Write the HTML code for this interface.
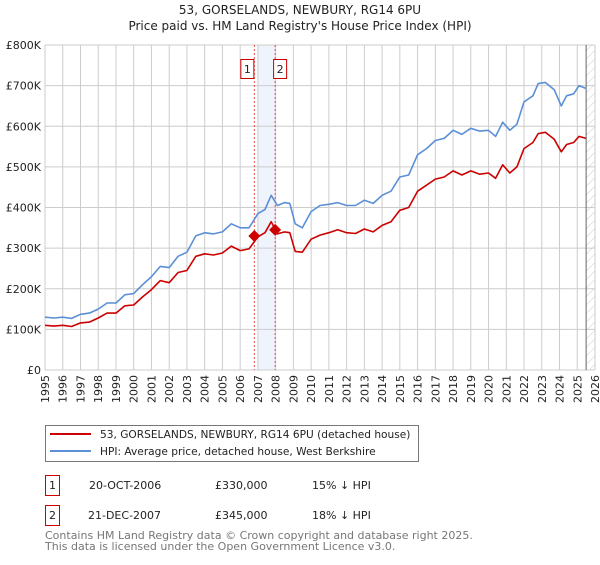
<!DOCTYPE html>
<html><head><meta charset="utf-8">
<style>
body{margin:0;background:#fff;font-family:"Liberation Sans","DejaVu Sans",sans-serif;}
svg text{font-family:"DejaVu Sans","Liberation Sans",sans-serif;}
</style></head>
<body>
<svg id="chart" width="600" height="560" viewBox="0 0 600 560" xmlns="http://www.w3.org/2000/svg">
<defs>
<pattern id="hatch" width="6" height="6" patternUnits="userSpaceOnUse" patternTransform="rotate(45)">
<line x1="0" y1="0" x2="0" y2="6" stroke="#ccc" stroke-width="1"/>
</pattern>
</defs>
<text x="300" y="14" text-anchor="middle" font-size="12" fill="#222">53, GORSELANDS, NEWBURY, RG14 6PU</text>
<text x="300" y="30" text-anchor="middle" font-size="12" fill="#222">Price paid vs. HM Land Registry's House Price Index (HPI)</text>
<g id="grid"></g>
<g id="marks"></g>
<g id="axes"></g>
<g>
<rect x="45.5" y="425.5" width="373" height="36" fill="#fff" stroke="#777"/>
<line x1="50" y1="434" x2="91" y2="434" stroke="#cc0000" stroke-width="2"/>
<text x="100" y="438" font-size="10.6" fill="#222">53, GORSELANDS, NEWBURY, RG14 6PU (detached house)</text>
<line x1="50" y1="451" x2="91" y2="451" stroke="#5b8fd6" stroke-width="2"/>
<text x="100" y="455" font-size="10.6" fill="#222">HPI: Average price, detached house, West Berkshire</text>
</g>
<g>
<rect x="45.5" y="475.5" width="14" height="20" fill="#fff" stroke="#cc0000"/>
<text x="52.5" y="489" text-anchor="middle" font-size="11" fill="#222">1</text>
<text x="89" y="489" font-size="11" fill="#222">20-OCT-2006</text>
<text x="215" y="489" font-size="11" fill="#222">£330,000</text>
<text x="312" y="489" font-size="11" fill="#222">15% ↓ HPI</text>
<rect x="45.5" y="505.5" width="14" height="20" fill="#fff" stroke="#cc0000"/>
<text x="52.5" y="519" text-anchor="middle" font-size="11" fill="#222">2</text>
<text x="88" y="519" font-size="11" fill="#222">21-DEC-2007</text>
<text x="215" y="519" font-size="11" fill="#222">£345,000</text>
<text x="312" y="519" font-size="11" fill="#222">18% ↓ HPI</text>
</g>
<text x="45" y="539" font-size="11" fill="#777">Contains HM Land Registry data © Crown copyright and database right 2025.</text>
<text x="45" y="550" font-size="11" fill="#777">This data is licensed under the Open Government Licence v3.0.</text>
</svg>
<script>
const hpiDates=[1995,1995.5,1996,1996.5,1997,1997.5,1998,1998.5,1999,1999.5,2000,2000.5,2001,2001.5,2002,2002.5,2003,2003.5,2004,2004.5,2005,2005.5,2006,2006.5,2007,2007.4,2007.75,2008.1,2008.5,2008.8,2009.1,2009.5,2010,2010.5,2011,2011.5,2012,2012.5,2013,2013.5,2014,2014.5,2015,2015.5,2016,2016.5,2017,2017.5,2018,2018.5,2019,2019.5,2020,2020.4,2020.8,2021.2,2021.6,2022,2022.5,2022.8,2023.2,2023.7,2024.1,2024.4,2024.8,2025.1,2025.5];
const hpiValues=[130,128,130,127,137,140,150,165,165,185,188,210,230,255,252,280,290,330,338,335,340,360,350,350,385,395,430,405,412,410,360,350,390,405,408,412,405,405,418,410,430,440,475,480,530,545,565,570,590,580,595,588,590,575,610,590,605,660,675,705,708,690,650,675,680,700,693];
const priceDates=hpiDates;
const priceValues=[110,108,110,107,116,118,128,140,140,158,160,180,198,220,215,240,245,280,286,283,288,305,294,298,328,338,365,335,340,338,292,290,322,332,338,345,338,336,347,340,356,365,393,400,440,455,470,475,490,480,490,482,485,472,505,485,500,545,560,582,585,568,537,555,560,575,570];
const saleDates=[2006.8,2007.97];
const salePrices=[330,345];
const saleLabels=["1","2"];
const yTicks=[0,100,200,300,400,500,600,700,800];
const yTickLabels=["£0","£100K","£200K","£300K","£400K","£500K","£600K","£700K","£800K"];
const xTicks=[1995,1996,1997,1998,1999,2000,2001,2002,2003,2004,2005,2006,2007,2008,2009,2010,2011,2012,2013,2014,2015,2016,2017,2018,2019,2020,2021,2022,2023,2024,2025,2026];
const bandStart=2007, dataEnd=2025.5;

const NS="http://www.w3.org/2000/svg";
const X0=45,X1=595,Y0=370,Y1=45;
const xs=d=>X0+(d-1995)/(2026-1995)*(X1-X0);
const ys=v=>Y0-v/800*(Y0-Y1);
function mk(tag,attrs,parent){const e=document.createElementNS(NS,tag);for(const k in attrs)e.setAttribute(k,attrs[k]);parent.appendChild(e);return e;}
const grid=document.getElementById('grid'),marks=document.getElementById('marks'),axes=document.getElementById('axes');

const band=mk('rect',{x:xs(bandStart),y:Y1,width:xs(saleDates[1])-xs(bandStart),height:Y0-Y1,fill:'#eef3fc'},grid);


const hat=mk('rect',{x:xs(dataEnd),y:Y1,width:X1-xs(dataEnd),height:Y0-Y1,fill:'url(#hatch)'},grid);



yTicks.forEach((t,i)=>{
  mk('line',{x1:X0,x2:X1,y1:ys(t),y2:ys(t),stroke:'#ccc','stroke-width':1},grid);
  const tx=mk('text',{x:X0-4,y:ys(t)+4,'text-anchor':'end','font-size':11,fill:'#222'},axes);
  tx.textContent=yTickLabels[i];
  
  
});
xTicks.forEach(t=>{
  mk('line',{x1:xs(t),x2:xs(t),y1:Y1,y2:Y0,stroke:'#ccc','stroke-width':1},grid);
  const tx=mk('text',{x:0,y:0,'text-anchor':'end','font-size':11,fill:'#222',transform:`translate(${xs(t)+4},${Y0+5}) rotate(-90)`},axes);
  tx.textContent=t;
  
  
});
const endLine=mk('line',{x1:xs(dataEnd),x2:xs(dataEnd),y1:Y1,y2:Y0,stroke:'#666','stroke-width':1},grid);



saleDates.forEach((d,i)=>{
  const l=mk('line',{x1:xs(d),x2:xs(d),y1:Y1,y2:Y0,stroke:'#e05050','stroke-width':1,'stroke-dasharray':'2,2'},marks);
  
  
});

function path(dates,vals){return dates.map((d,i)=>(i?'L':'M')+xs(d).toFixed(1)+','+ys(vals[i]).toFixed(1)).join('');}
const hp=mk('path',{d:path(hpiDates,hpiValues),fill:'none',stroke:'#5b8fd6','stroke-width':1.6,'stroke-linejoin':'round'},marks);


const pp=mk('path',{d:path(priceDates,priceValues),fill:'none',stroke:'#cc0000','stroke-width':1.6,'stroke-linejoin':'round'},marks);



saleDates.forEach((d,i)=>{
  const cx=xs(d),cy=ys(salePrices[i]);
  const p=mk('path',{d:`M${cx},${cy-6}L${cx+6},${cy}L${cx},${cy+6}L${cx-6},${cy}Z`,fill:'#cc0000'},marks);
  
  
  const bx=cx+(i===0?-7:5);
  const r=mk('rect',{x:bx-6.5,y:59.5,width:13,height:19,fill:'#fff',stroke:'#cc0000'},marks);
  
  
  const t=mk('text',{x:bx,y:73,'text-anchor':'middle','font-size':11,fill:'#222'},marks);
  t.textContent=saleLabels[i];
  
  
});
</script>
</body></html>
